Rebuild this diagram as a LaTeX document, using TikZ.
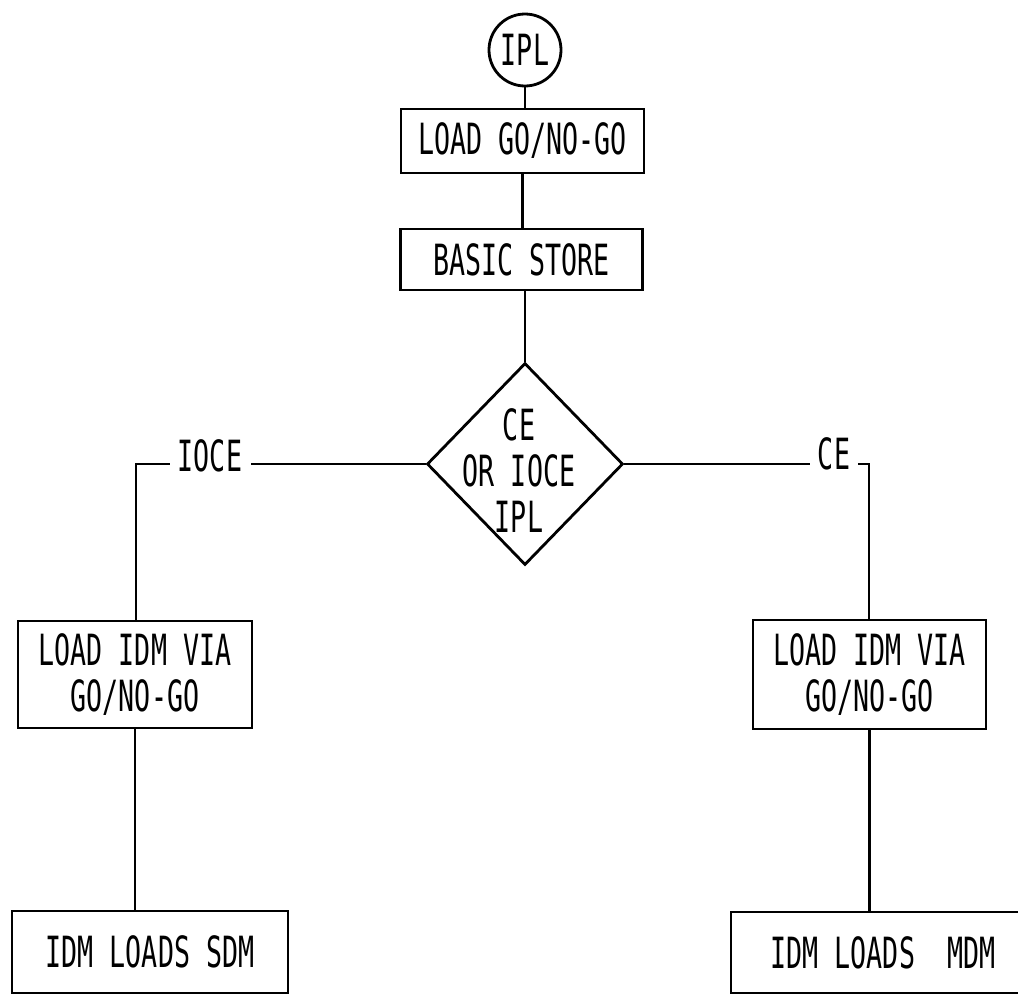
\documentclass[tikz,border=0pt]{standalone}
\usepackage{fontspec}
\usepackage{graphicx}
\newfontfamily\typ{DejaVu Sans Mono}
\usetikzlibrary{shapes.geometric}
\newcommand\lbl[1]{\scalebox{0.62}[1]{#1}}
\begin{document}
\begin{tikzpicture}[x=1pt,y=-1pt,line width=2.8pt,
  txt/.style={font=\typ\fontsize{43}{46}\selectfont},
  flowbox/.style={draw,rectangle,inner sep=0pt,align=center,txt},
  lab/.style={inner xsep=7pt,inner ysep=0pt,txt}]
\useasboundingbox[fill=white] (0,0) rectangle (1018,996);
% nodes
\node[circle,draw,minimum size=72pt,inner sep=0pt,txt] (ipl) at (525,50) {\lbl{IPL}};
\node[flowbox,minimum width=243pt,minimum height=64pt] (load) at (522.5,141) {\lbl{LOAD GO/NO-GO}};
\node[flowbox,minimum width=242pt,minimum height=61pt] (basic) at (521.5,259.5) {\lbl{BASIC STORE}};
\node[diamond,draw,minimum width=196pt,minimum height=202pt,inner sep=0pt] (dia) at (525,464) {};
\node[align=center,inner sep=0pt,txt] (diatext) at (519,471) {\lbl{CE}\\\lbl{OR IOCE}\\\lbl{IPL}};
\node[lab] (ioce) at (210,456) {\lbl{IOCE}};
\node[lab] (ce) at (834,454) {\lbl{CE}};
\coordinate (lc) at (136,464);
\coordinate (rc) at (869,464);
\node[flowbox,minimum width=234pt,minimum height=107pt] (lbox) at (135,674.5) {\lbl{LOAD IDM VIA}\\\lbl{GO/NO-GO}};
\node[flowbox,minimum width=233pt,minimum height=109pt] (rbox) at (869.5,674.5) {\lbl{LOAD IDM VIA}\\\lbl{GO/NO-GO}};
\node[flowbox,minimum width=276pt,minimum height=82pt] (lbot) at (150,952) {\lbl{IDM LOADS SDM}};
\node[flowbox,minimum width=304pt,minimum height=81pt] (rbot) at (883,952.5) {\lbl{IDM LOADS\ \ MDM}};
% connectors
\draw (ipl.south) -- (ipl.south |- load.north);
\draw (load.south) -- (load.south |- basic.north);
\draw (dia.north |- basic.south) -- (dia.north);
\draw (dia.west) -- (dia.west -| ioce.east);
\draw (dia.west -| ioce.west) -- (lc) -- (lc |- lbox.north);
\draw (dia.east) -- (dia.east -| ce.west);
\draw (dia.east -| ce.east) -- (rc) -- (rc |- rbox.north);
\draw (lbox.south) -- (lbox.south |- lbot.north);
\draw (rbox.south) -- (rbox.south |- rbot.north);
\end{tikzpicture}
\end{document}
